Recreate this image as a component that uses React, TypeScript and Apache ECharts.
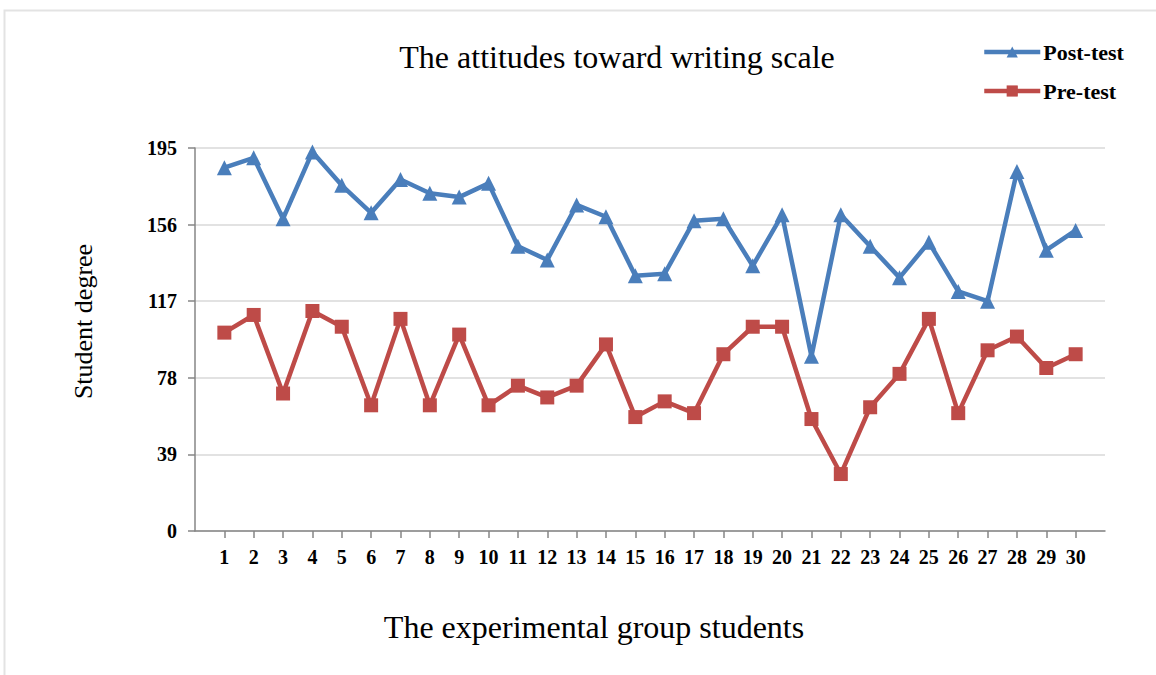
import React, { useEffect, useRef } from "react";
import * as echarts from "echarts";

const categories = Array.from({ length: 30 }, (_, i) => i + 1);
const postTest = [185, 190, 159, 193, 176, 162, 179, 172, 170, 177, 145, 138, 166, 160, 130, 131, 158, 159, 135, 161, 89, 161, 145, 129, 147, 122, 117, 183, 143, 153];
const preTest = [101, 110, 70, 112, 104, 64, 108, 64, 100, 64, 74, 68, 74, 95, 58, 66, 60, 90, 104, 104, 57, 29, 63, 80, 108, 60, 92, 99, 83, 90];
const yTicks = [0, 39, 78, 117, 156, 195];

const FONT = "'Liberation Serif', 'Times New Roman', serif";

export default function App() {
  const ref = useRef<HTMLDivElement>(null);
  useEffect(() => {
    if (!ref.current) return;
    const chart = echarts.init(ref.current, null, { renderer: "svg" });
    chart.setOption({
      animation: false,
      backgroundColor: "#ffffff",
      graphic: [
        {
          type: "rect",
          shape: { x: 4.5, y: 10.5, width: 1200, height: 700 },
          style: { fill: "none", stroke: "#e3e3e3", lineWidth: 2 },
          silent: true,
        },
      ],
      title: {
        text: "The attitudes toward writing scale",
        left: 612,
        textAlign: "center",
        top: 36,
        textStyle: { fontFamily: FONT, fontSize: 32, fontWeight: "normal", color: "#000" },
      },
      legend: {
        orient: "vertical",
        left: 982,
        top: 41,
        padding: 0,
        itemGap: 17,
        itemWidth: 56,
        itemHeight: 14,
        lineStyle: { width: 4.5 },
        textStyle: { fontFamily: FONT, fontSize: 22, fontWeight: "bold", color: "#000", padding: [0, 0, 0, -2] },
        data: ["Post-test", "Pre-test"],
      },
      grid: { left: 195, right: 51, top: 148, bottom: 144 },
      xAxis: {
        type: "value",
        min: 0,
        max: 31,
        interval: 1,
        name: "The experimental group students",
        nameLocation: "middle",
        nameGap: 80,
        nameTextStyle: { fontFamily: FONT, fontSize: 32, color: "#000", padding: [0, 112, 0, 0] },
        splitLine: { show: false },
        axisLine: { show: true, lineStyle: { color: "#868686", width: 1.5 } },
        axisTick: { show: true, length: 7, lineStyle: { color: "#868686", width: 1.5 } },
        axisLabel: {
          fontFamily: FONT,
          fontSize: 20,
          fontWeight: "bold",
          color: "#000",
          margin: 16,
          showMinLabel: false,
          showMaxLabel: false,
          formatter: (v: number) => (v >= 1 && v <= 30 ? String(v) : ""),
        },
      },
      yAxis: {
        type: "value",
        min: 0,
        max: 195,
        interval: 39,
        name: "Student degree",
        nameLocation: "middle",
        nameGap: 99,
        nameRotate: 90,
        nameTextStyle: { fontFamily: FONT, fontSize: 26, color: "#000", padding: [0, 0, 0, 36] },
        axisLine: { show: true, lineStyle: { color: "#868686", width: 1.5 } },
        axisTick: { show: true, length: 7, lineStyle: { color: "#868686", width: 1.5 } },
        axisLabel: {
          fontFamily: FONT,
          fontSize: 20,
          fontWeight: "bold",
          color: "#000",
          margin: 18,
          formatter: (v: number) => (yTicks.includes(v) ? String(v) : ""),
        },
        splitLine: { lineStyle: { color: "#d9d9d9", width: 1.5 } },
      },
      series: [
        {
          name: "Post-test",
          type: "line",
          data: categories.map((c, i) => [c, postTest[i]]),
          symbol: "triangle",
          symbolSize: 15,
          lineStyle: { color: "#4a7ebb", width: 4.5 },
          itemStyle: { color: "#4a7ebb" },
        },
        {
          name: "Pre-test",
          type: "line",
          data: categories.map((c, i) => [c, preTest[i]]),
          symbol: "rect",
          symbolSize: 14,
          lineStyle: { color: "#be4b48", width: 4.5 },
          itemStyle: { color: "#be4b48" },
        },
      ],
    });
    return () => chart.dispose();
  }, []);
  return (
    <div
      ref={ref}
      style={{ position: "fixed", left: 0, top: 0, width: 1156, height: 675 }}
    />
  );
}
